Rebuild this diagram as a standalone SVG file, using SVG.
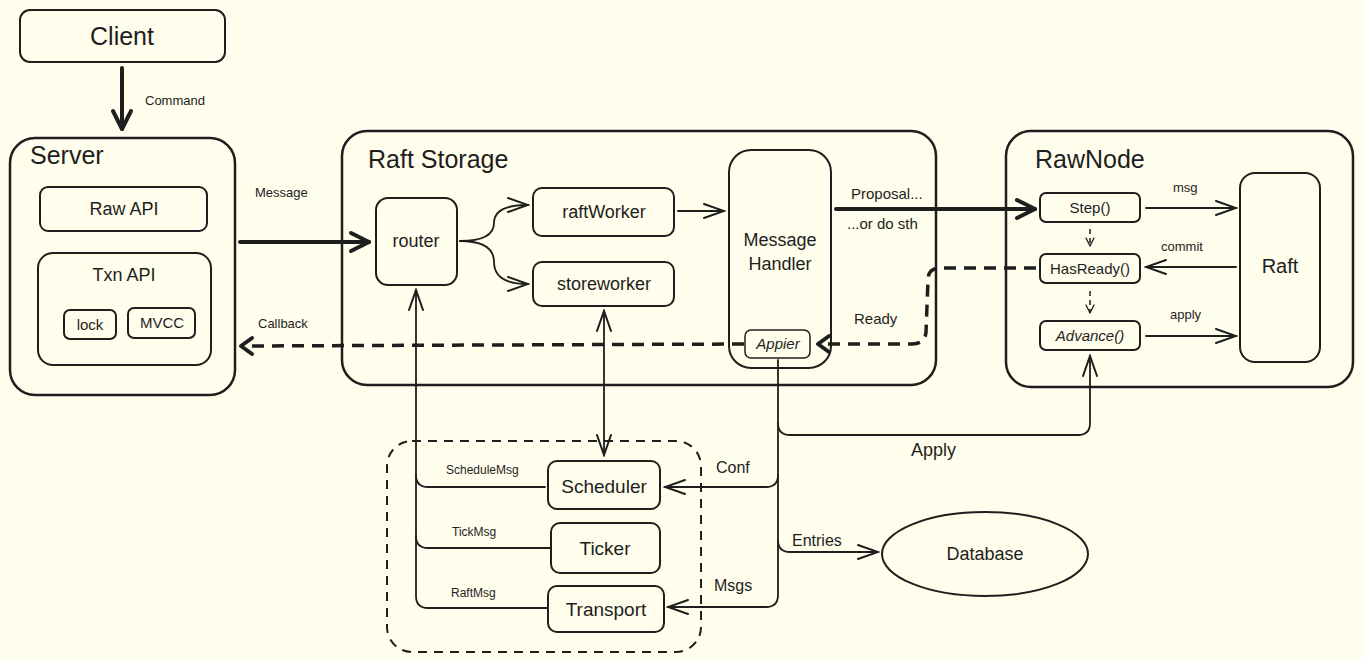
<svg xmlns="http://www.w3.org/2000/svg" width="1363" height="661" viewBox="0 0 1363 661">
<defs>
<style>
.bg{fill:#fffdeb}
.box{fill:none;stroke:#1e1e1e;stroke-width:2}
.big{fill:none;stroke:#1e1e1e;stroke-width:2.5}
.ln{fill:none;stroke:#1e1e1e;stroke-width:1.8;stroke-linecap:round;stroke-linejoin:round}
.thick{fill:none;stroke:#1e1e1e;stroke-width:4;stroke-linecap:round}
.dash{fill:none;stroke:#1e1e1e;stroke-width:3.5;stroke-dasharray:12 8}
.sdash{fill:none;stroke:#1e1e1e;stroke-width:1.5;stroke-dasharray:5 4}
text{font-family:"Liberation Sans",Arial,sans-serif;fill:#1e1e1e}
.c{text-anchor:middle}
.t{font-size:25px}
.n{font-size:18px}
.s{font-size:13px}
.m{font-size:15px}
</style>
<marker id="ah" viewBox="0 0 24 20" refX="22" refY="10" markerWidth="24" markerHeight="20" markerUnits="userSpaceOnUse" orient="auto-start-reverse"><path d="M2,3 L22,10 L2,17" fill="none" stroke="#1e1e1e" stroke-width="2" stroke-linecap="round"/></marker>
<marker id="aht" viewBox="0 0 24 24" refX="21" refY="12" markerWidth="24" markerHeight="24" markerUnits="userSpaceOnUse" orient="auto"><path d="M3,3 L21,12 L3,21" fill="none" stroke="#1e1e1e" stroke-width="4" stroke-linecap="round" stroke-linejoin="round"/></marker>
<marker id="ahs" viewBox="0 0 10 10" refX="5" refY="9" markerWidth="10" markerHeight="10" markerUnits="userSpaceOnUse" orient="auto"><path d="M1,1 L5,9 L9,1" fill="none" stroke="#1e1e1e" stroke-width="1.3" transform="rotate(-90 5 5)"/></marker>
</defs>
<rect class="bg" x="0" y="0" width="1363" height="661"/>

<g id="client"><rect class="box" x="20" y="10" width="205" height="52" rx="10"/><text class="c t" x="122" y="45">Client</text></g>

<g id="server"><rect class="big" x="10" y="138" width="225" height="257" rx="25"/><text class="t" x="30" y="164">Server</text></g>
<g id="rawapi"><rect class="box" x="40" y="187" width="167" height="44" rx="8"/><text class="c n" x="124" y="215">Raw API</text></g>
<g id="txnapi"><rect class="box" x="38" y="253" width="173" height="112" rx="15"/><text class="c n" x="124" y="281">Txn API</text></g>
<g id="lock"><rect class="box" x="64" y="310" width="52" height="29" rx="6"/><text class="c m" x="90" y="330">lock</text></g>
<g id="mvcc"><rect class="box" x="128" y="308" width="67" height="30" rx="6"/><text class="c m" x="162" y="328">MVCC</text></g>

<g id="raftstorage"><rect class="big" x="342" y="131" width="594" height="254" rx="25"/><text class="t" x="368" y="168">Raft Storage</text></g>
<g id="router"><rect class="box" x="376" y="198" width="81" height="87" rx="12"/><text class="c n" x="416" y="247">router</text></g>
<g id="raftworker"><rect class="box" x="533" y="188" width="141" height="48" rx="9"/><text class="c n" x="604" y="218">raftWorker</text></g>
<g id="storeworker"><rect class="box" x="533" y="262" width="141" height="44" rx="9"/><text class="c n" x="604" y="290">storeworker</text></g>
<g id="messagehandler"><rect class="box" x="729" y="150" width="102" height="218" rx="22"/><text class="c n" x="780" y="246">Message</text><text class="c n" x="780" y="270">Handler</text></g>
<g id="appier"><rect class="box" x="745" y="330" width="65" height="28" rx="6" style="stroke-width:1.5"/><text class="c m" x="778" y="349" font-style="italic">Appier</text></g>

<g id="rawnode"><rect class="big" x="1006" y="131" width="347" height="256" rx="25"/><text class="t" x="1035" y="168">RawNode</text></g>
<g id="step"><rect class="box" x="1040" y="193" width="100" height="29" rx="6"/><text class="c m" x="1090" y="213">Step()</text></g>
<g id="hasready"><rect class="box" x="1040" y="254" width="100" height="29" rx="6"/><text class="c m" x="1090" y="274">HasReady()</text></g>
<g id="advance"><rect class="box" x="1040" y="321" width="100" height="29" rx="6"/><text class="c m" x="1090" y="341" font-style="italic">Advance()</text></g>
<g id="raft"><rect class="box" x="1240" y="173" width="80" height="189" rx="15"/><text class="c" x="1280" y="273" font-size="20">Raft</text></g>

<g id="group"><rect fill="none" stroke="#1e1e1e" stroke-width="2" stroke-dasharray="9 7" x="387" y="441" width="314" height="211" rx="25"/></g>
<g id="scheduler"><rect class="box" x="548" y="461" width="112" height="48" rx="9"/><text class="c" x="604" y="493" font-size="19">Scheduler</text></g>
<g id="ticker"><rect class="box" x="551" y="523" width="109" height="50" rx="9"/><text class="c" x="605" y="555" font-size="19">Ticker</text></g>
<g id="transport"><rect class="box" x="548" y="586" width="116" height="46" rx="9"/><text class="c" x="606" y="616" font-size="19">Transport</text></g>
<g id="database"><ellipse class="box" cx="985" cy="554" rx="103" ry="42"/><text class="c n" x="985" y="560">Database</text></g>

<g id="connectors">
<path class="thick" d="M122,68 L122,129" marker-end="url(#aht)"/>
<path class="thick" d="M240,242 L369,242" marker-end="url(#aht)"/>
<path class="dash" d="M744,344 L244,346"/>
<path class="thick" d="M252,338 L241,346 L252,354" stroke-linejoin="round"/>
<path class="ln" d="M460,241 Q494,241 494,223 Q494,205 528,205" marker-end="url(#ah)"/>
<path class="ln" d="M460,241 Q494,241 494,262 Q494,284 528,284" marker-end="url(#ah)"/>
<path class="ln" d="M678,211 L724,211" marker-end="url(#ah)"/>
<path class="thick" d="M836,209 L1035,209" marker-end="url(#aht)"/>
<path class="ln" d="M1146,208 L1236,208" marker-end="url(#ah)"/>
<path class="ln" d="M1236,267 L1146,267" marker-end="url(#ah)"/>
<path class="ln" d="M1146,336 L1236,336" marker-end="url(#ah)"/>
<path class="sdash" d="M1090,229 L1090,246"/>
<path class="ln" d="M1086,238 L1090,246 L1094,238" style="stroke-width:1.3"/>
<path class="sdash" d="M1090,291 L1090,313"/>
<path class="ln" d="M1086,305 L1090,313 L1094,305" style="stroke-width:1.3"/>
<path class="dash" d="M1036,268 L940,268 Q928,268 928,280 L926,332 Q925,344 912,344 L820,344"/>
<path class="thick" d="M829,336 L818,344 L829,352" stroke-linejoin="round"/>
<path class="ln" d="M548,608 L428,608 Q416,608 416,596 L416,290" marker-end="url(#ah)"/>
<path class="ln" d="M545,487 L428,487 Q416,487 416,475"/>
<path class="ln" d="M550,548 L428,548 Q416,548 416,536"/>
<path class="ln" d="M604,311 L604,455" marker-start="url(#ah)" marker-end="url(#ah)"/>
<path class="ln" d="M778,360 L778,595 Q778,607 766,607 L668,607" marker-end="url(#ah)"/>
<path class="ln" d="M778,475 Q778,487 766,487 L665,487" marker-end="url(#ah)"/>
<path class="ln" d="M778,540 Q778,552 790,552 L878,552" marker-end="url(#ah)"/>
<path class="ln" d="M778,423 Q778,435 790,435 L1078,435 Q1090,435 1090,423 L1090,356" marker-end="url(#ah)"/>
<text class="s" x="145" y="105">Command</text>
<text class="s" x="255" y="197">Message</text>
<text class="s" x="258" y="328">Callback</text>
<text class="m" x="851" y="199">Proposal...</text>
<text class="m" x="847" y="229">...or do sth</text>
<text class="m" x="854" y="324">Ready</text>
<text class="s" x="1173" y="192">msg</text>
<text class="s" x="1161" y="251">commit</text>
<text class="s" x="1170" y="319">apply</text>
<text x="911" y="456" font-size="18">Apply</text>
<text x="716" y="473" font-size="16">Conf</text>
<text x="792" y="546" font-size="16">Entries</text>
<text x="714" y="591" font-size="16">Msgs</text>
<text x="446" y="474" font-size="12">ScheduleMsg</text>
<text x="452" y="536" font-size="12">TickMsg</text>
<text x="451" y="597" font-size="12">RaftMsg</text>
</g>
</svg>
